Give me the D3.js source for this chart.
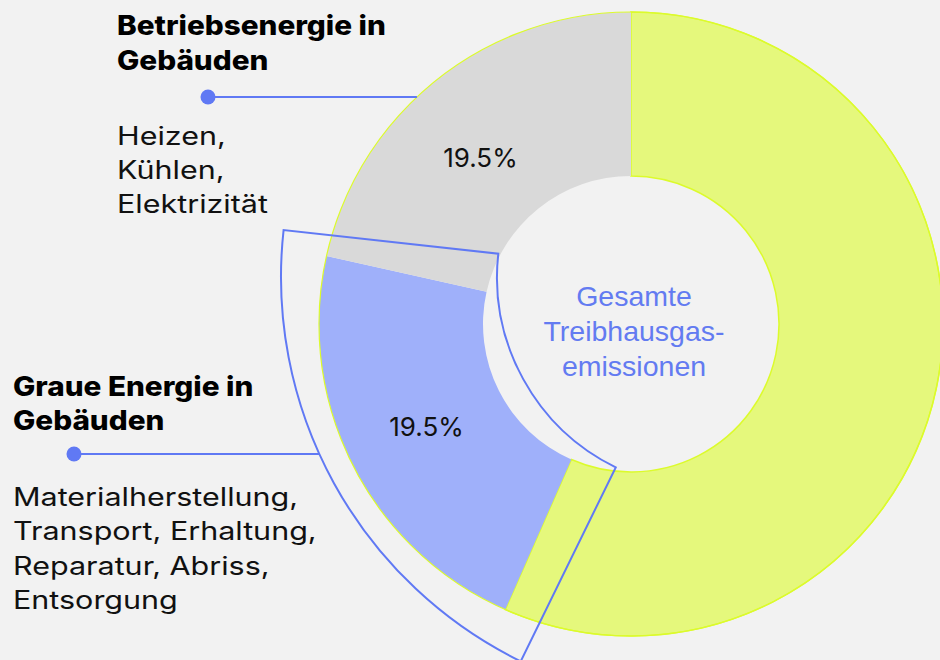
<!DOCTYPE html>
<html>
<head>
    <meta charset="utf-8">
    <title>Treibhausgasemissionen Gebäude</title>
    <style>
        body {
            margin: 0;
            background-color: #f2f2f2;
        }

        .title {
            font-family: Inter, "Open Sans", sans-serif;
            font-weight: 800;
            font-size: 27px;
            fill: #000000;
        }

        .body-text {
            font-family: Inter, "Open Sans", sans-serif;
            font-weight: 400;
            font-size: 25px;
            fill: #111111;
        }

        .pct {
            font-family: Inter, "Open Sans", sans-serif;
            font-size: 26px;
            fill: #111111;
        }

        .center-text {
            font-family: "Liberation Sans", Arial, sans-serif;
            font-size: 28.5px;
            fill: #637bf1;
        }
    </style>
    <script src="https://d3js.org/d3.v7.min.js"></script>
</head>
<body>
    <div id="chart"></div>

    <script>
        // slices, clockwise from 12 o'clock
        var segNames = ["Gesamt", "Graue Energie", "Betriebsenergie"];
        var segValues = [56.6, 21.9, 21.5];
        var segLabels = ["", "19.5%", "19.5%"];
        var segColors = ["#e5f87c", "#9fb0fa", "#d9d9d9"];

        // share marked by the outlined bracket
        var bracketShare = 19.5;

        var centerLines = ["Gesamte", "Treibhausgas-", "emissionen"];
        var topTitle = ["Betriebsenergie in", "Gebäuden"];
        var topBody = ["Heizen,", "Kühlen,", "Elektrizität"];
        var bottomTitle = ["Graue Energie in", "Gebäuden"];
        var bottomBody = ["Materialherstellung,", "Transport, Erhaltung,", "Reparatur, Abriss,", "Entsorgung"];

        var width = 940, height = 660;
        var cx = 631, cy = 324;
        var outerR = 312, innerR = 148;
        var accent = "#6079f4";
        // small hand nudges for the percentage labels
        var labelNudge = [[0, 0], [-1, 0], [-8, 12]];

        var svg = d3.select("#chart")
            .append("svg")
            .attr("width", width)
            .attr("height", height);

        svg.append("rect")
            .attr("width", width)
            .attr("height", height)
            .attr("fill", "#f2f2f2");

        var pie = d3.pie().sort(null).value(function(d) { return d; });
        var arcs = pie(segValues);

        var arc = d3.arc().innerRadius(innerR).outerRadius(outerR);
        var labelArc = d3.arc().innerRadius(228).outerRadius(228);

        var g = svg.append("g")
            .attr("transform", "translate(" + cx + "," + cy + ")");

        g.selectAll("path.slice")
            .data(arcs)
            .enter()
            .append("path")
            .attr("class", "slice")
            .attr("d", arc)
            .attr("fill", function(d, i) { return segColors[i]; })
            .attr("stroke", function(d, i) { return i === 0 ? "#dcfb2c" : "none"; })
            .attr("stroke-width", 1.5);

        // thin outline round the whole ring
        g.append("circle")
            .attr("r", outerR)
            .attr("fill", "none")
            .attr("stroke", "#dcfb2c")
            .attr("stroke-width", 1.2);

        g.selectAll("text.pct")
            .data(arcs)
            .enter()
            .append("text")
            .attr("class", "pct")
            .attr("transform", function(d, i) {
                var c = labelArc.centroid(d);
                return "translate(" + (c[0] + labelNudge[i][0]) + "," + (c[1] + labelNudge[i][1]) + ")";
            })
            .attr("text-anchor", "middle")
            .attr("dy", "0.35em")
            .text(function(d, i) { return segLabels[i]; });

        g.selectAll("text.center-text")
            .data(centerLines)
            .enter()
            .append("text")
            .attr("class", "center-text")
            .attr("x", 3)
            .attr("y", function(d, i) { return -18 + i * 35; })
            .attr("text-anchor", "middle")
            .text(function(d) { return d; });

        // bracket round the grey-energy slice
        var bx = 709, by = 277, bOuter = 428, bInner = 212;
        var bEnd = 276.3 * Math.PI / 180;
        var bStart = bEnd - bracketShare / 100 * 2 * Math.PI;
        var bracketArc = d3.arc()
            .innerRadius(bInner)
            .outerRadius(bOuter)
            .startAngle(bStart)
            .endAngle(bEnd);

        svg.append("path")
            .attr("transform", "translate(" + bx + "," + by + ")")
            .attr("d", bracketArc())
            .attr("fill", "none")
            .attr("stroke", accent)
            .attr("stroke-width", 2);

        // leader lines with dots
        var topY = 97;
        var topEnd = cx - Math.sqrt(outerR * outerR - (cy - topY) * (cy - topY));
        var botY = 454;
        var botEnd = bx - Math.sqrt(bOuter * bOuter - (botY - by) * (botY - by));

        var leaders = [
            { x0: 208, x1: topEnd, y: topY },
            { x0: 74, x1: botEnd, y: botY }
        ];

        leaders.forEach(function(l) {
            svg.append("line")
                .attr("x1", l.x0).attr("x2", l.x1)
                .attr("y1", l.y).attr("y2", l.y)
                .attr("stroke", accent)
                .attr("stroke-width", 2);
            svg.append("circle")
                .attr("cx", l.x0).attr("cy", l.y)
                .attr("r", 7.5)
                .attr("fill", accent);
        });

        // the original face is much wider than Inter, so stretch it sideways
        function block(lines, cls, x, y0, step, sx) {
            svg.append("g")
                .attr("transform", "translate(" + x + "," + y0 + ") scale(" + sx + ",1)")
                .selectAll("text")
                .data(lines)
                .enter()
                .append("text")
                .attr("class", cls)
                .attr("x", 0)
                .attr("y", function(d, i) { return i * step; })
                .text(function(d) { return d; });
        }

        block(topTitle, "title", 117, 35, 35, 1.1);
        block(topBody, "body-text", 117, 145, 34, 1.22);
        block(bottomTitle, "title", 13, 396, 34.5, 1.1);
        block(bottomBody, "body-text", 13, 506, 34.5, 1.22);
    </script>
</body>
</html>
